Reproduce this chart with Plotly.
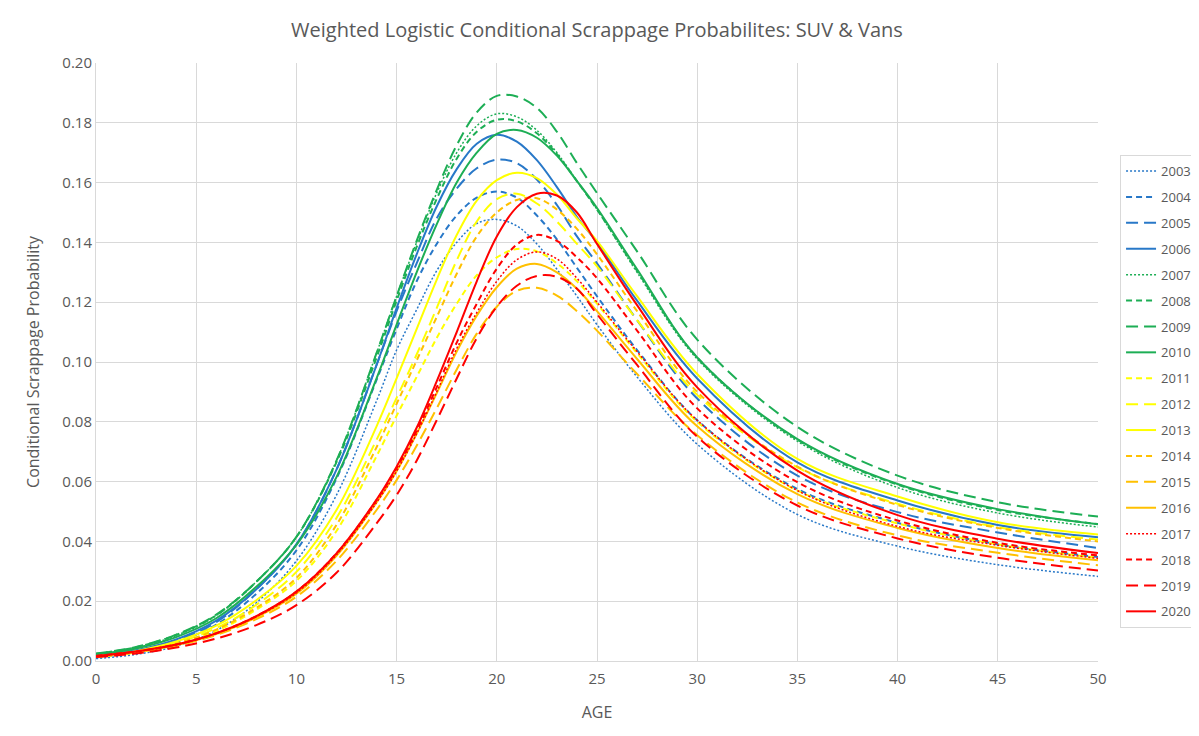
import plotly.graph_objects as go

ages = [0, 2, 4, 6, 8, 10, 12, 14, 15, 16, 17, 18, 19, 20, 21, 22, 23, 24, 25, 27, 30, 35, 40, 45, 50]

years = ["2003", "2004", "2005", "2006", "2007", "2008", "2009", "2010", "2011",
         "2012", "2013", "2014", "2015", "2016", "2017", "2018", "2019", "2020"]

p2003 = [0.0008, 0.0022, 0.0050, 0.0102, 0.0195, 0.0335, 0.0555, 0.0870, 0.1040, 0.1175, 0.1305, 0.1400, 0.1463, 0.1477, 0.1455, 0.1395, 0.1310, 0.1220, 0.1125, 0.0950, 0.0725, 0.0490, 0.0384, 0.0322, 0.0283]
p2004 = [0.0012, 0.0030, 0.0063, 0.0122, 0.0225, 0.0370, 0.0610, 0.0940, 0.1110, 0.1270, 0.1395, 0.1490, 0.1550, 0.1570, 0.1550, 0.1490, 0.1410, 0.1315, 0.1220, 0.1040, 0.0805, 0.0575, 0.0462, 0.0390, 0.0348]
p2005 = [0.0015, 0.0033, 0.0068, 0.0130, 0.0240, 0.0390, 0.0640, 0.0990, 0.1170, 0.1330, 0.1480, 0.1580, 0.1648, 0.1677, 0.1665, 0.1610, 0.1525, 0.1420, 0.1330, 0.1140, 0.0878, 0.0620, 0.0498, 0.0430, 0.0378]
p2006 = [0.0018, 0.0036, 0.0072, 0.0135, 0.0240, 0.0390, 0.0640, 0.0990, 0.1180, 0.1360, 0.1520, 0.1645, 0.1730, 0.1760, 0.1737, 0.1675, 0.1585, 0.1485, 0.1400, 0.1205, 0.0945, 0.0664, 0.0537, 0.0455, 0.0414]
p2007 = [0.0022, 0.0044, 0.0085, 0.0152, 0.0265, 0.0415, 0.0670, 0.1030, 0.1220, 0.1400, 0.1565, 0.1700, 0.1790, 0.1830, 0.1820, 0.1775, 0.1700, 0.1605, 0.1510, 0.1300, 0.1010, 0.0735, 0.0580, 0.0495, 0.0448]
p2008 = [0.0024, 0.0046, 0.0087, 0.0153, 0.0265, 0.0415, 0.0665, 0.1015, 0.1205, 0.1385, 0.1545, 0.1680, 0.1770, 0.1810, 0.1805, 0.1765, 0.1695, 0.1605, 0.1510, 0.1305, 0.1015, 0.0740, 0.0590, 0.0505, 0.0458]
p2009 = [0.0025, 0.0047, 0.0088, 0.0155, 0.0265, 0.0415, 0.0670, 0.1030, 0.1220, 0.1405, 0.1575, 0.1725, 0.1835, 0.1890, 0.1888, 0.1850, 0.1770, 0.1665, 0.1565, 0.1370, 0.1075, 0.0783, 0.0620, 0.0531, 0.0483]
p2010 = [0.0022, 0.0042, 0.0080, 0.0143, 0.0248, 0.0388, 0.0615, 0.0945, 0.1125, 0.1300, 0.1460, 0.1600, 0.1700, 0.1763, 0.1776, 0.1750, 0.1690, 0.1605, 0.1515, 0.1310, 0.1015, 0.0742, 0.0592, 0.0508, 0.0457]
p2011 = [0.0013, 0.0029, 0.0056, 0.0100, 0.0172, 0.0268, 0.0435, 0.0685, 0.0820, 0.0950, 0.1080, 0.1195, 0.1290, 0.1350, 0.1378, 0.1370, 0.1330, 0.1270, 0.1195, 0.1030, 0.0800, 0.0570, 0.0460, 0.0390, 0.0345]
p2012 = [0.0014, 0.0030, 0.0060, 0.0110, 0.0188, 0.0298, 0.0478, 0.0740, 0.0880, 0.1025, 0.1180, 0.1340, 0.1470, 0.1545, 0.1563, 0.1530, 0.1470, 0.1395, 0.1320, 0.1140, 0.0890, 0.0648, 0.0526, 0.0448, 0.0406]
p2013 = [0.0015, 0.0033, 0.0065, 0.0118, 0.0203, 0.0318, 0.0505, 0.0785, 0.0945, 0.1110, 0.1275, 0.1425, 0.1540, 0.1608, 0.1633, 0.1615, 0.1560, 0.1480, 0.1405, 0.1220, 0.0960, 0.0676, 0.0550, 0.0464, 0.0423]
p2014 = [0.0014, 0.0030, 0.0058, 0.0105, 0.0178, 0.0278, 0.0455, 0.0715, 0.0860, 0.1005, 0.1150, 0.1295, 0.1420, 0.1500, 0.1542, 0.1548, 0.1510, 0.1445, 0.1360, 0.1170, 0.0900, 0.0650, 0.0522, 0.0445, 0.0400]
p2015 = [0.0015, 0.0029, 0.0051, 0.0087, 0.0140, 0.0215, 0.0335, 0.0505, 0.0605, 0.0720, 0.0845, 0.0975, 0.1095, 0.1185, 0.1238, 0.1248, 0.1222, 0.1170, 0.1105, 0.0960, 0.0755, 0.0530, 0.0420, 0.0362, 0.0320]
p2016 = [0.0016, 0.0030, 0.0053, 0.0090, 0.0146, 0.0225, 0.0352, 0.0530, 0.0635, 0.0760, 0.0895, 0.1035, 0.1155, 0.1250, 0.1312, 0.1328, 0.1300, 0.1245, 0.1170, 0.1010, 0.0785, 0.0558, 0.0445, 0.0378, 0.0337]
p2017 = [0.0016, 0.0031, 0.0054, 0.0092, 0.0148, 0.0228, 0.0355, 0.0530, 0.0635, 0.0760, 0.0900, 0.1045, 0.1165, 0.1270, 0.1342, 0.1368, 0.1345, 0.1280, 0.1200, 0.1035, 0.0805, 0.0570, 0.0450, 0.0387, 0.0343]
p2018 = [0.0017, 0.0032, 0.0055, 0.0093, 0.0150, 0.0232, 0.0360, 0.0538, 0.0645, 0.0770, 0.0915, 0.1065, 0.1195, 0.1312, 0.1393, 0.1425, 0.1405, 0.1350, 0.1280, 0.1105, 0.0845, 0.0598, 0.0470, 0.0395, 0.0353]
p2019 = [0.0013, 0.0025, 0.0045, 0.0075, 0.0120, 0.0187, 0.0295, 0.0460, 0.0555, 0.0670, 0.0805, 0.0945, 0.1080, 0.1185, 0.1255, 0.1288, 0.1285, 0.1245, 0.1160, 0.0990, 0.0750, 0.0520, 0.0410, 0.0345, 0.0303]
p2020 = [0.0017, 0.0032, 0.0055, 0.0093, 0.0150, 0.0232, 0.0360, 0.0540, 0.0650, 0.0780, 0.0935, 0.1100, 0.1270, 0.1420, 0.1518, 0.1563, 0.1557, 0.1500, 0.1395, 0.1190, 0.0915, 0.0637, 0.0488, 0.0409, 0.0361]

values = [p2003, p2004, p2005, p2006, p2007, p2008, p2009, p2010, p2011,
          p2012, p2013, p2014, p2015, p2016, p2017, p2018, p2019, p2020]

BLUE = "#2878C8"
GREEN = "#1DAE55"
YELLOW = "#FFFF00"
ORANGE = "#FFC000"
RED = "#FF0000"
colors = [BLUE] * 4 + [GREEN] * 4 + [YELLOW] * 3 + [ORANGE] * 3 + [RED] * 4
dashes = ["2px,2px", "6px,4px", "12px,6px", "solid",
          "2px,2px", "6px,4px", "12px,6px", "solid",
          "6px,4px", "12px,6px", "solid",
          "6px,4px", "12px,6px", "solid",
          "2px,2px", "6px,4px", "12px,6px", "solid"]

fig = go.Figure()
for yr, vals, c, d in zip(years, values, colors, dashes):
    w = 1.5 if d == "2px,2px" else 2
    fig.add_trace(go.Scatter(
        x=ages, y=vals, mode="lines", name=yr, legendgroup=yr,
        line=dict(color=c, dash=d, width=w, shape="spline", smoothing=1.0),
    ))

GRID = "#D9D9D9"
TXT = "#595959"
FONT = "Open Sans"

# page body has an 8px margin: size the figure so it fills the 1199x736 window
fig.update_layout(
    width=1191, height=728,
    paper_bgcolor="white", plot_bgcolor="white",
    margin=dict(l=88, r=101, t=55, b=75, autoexpand=False),
    font=dict(family=FONT, color=TXT, size=14),
    title=dict(text="Weighted Logistic Conditional Scrappage Probabilites: SUV &amp; Vans",
               x=0.5, xref="paper", xanchor="center", y=0.97, yref="container",
               yanchor="middle",
               font=dict(size=20, color=TXT, family=FONT)),
    xaxis=dict(range=[0, 50], dtick=5, tick0=0, showgrid=True, gridcolor=GRID,
               gridwidth=1, zeroline=False, showline=True, linecolor=GRID,
               ticks="", automargin=False, ticklabelstandoff=4,
               tickfont=dict(size=15, color=TXT),
               title=dict(text="AGE", font=dict(size=16, color=TXT), standoff=19)),
    yaxis=dict(range=[0, 0.2], dtick=0.02, tick0=0, tickformat=".2f", showgrid=True,
               gridcolor=GRID, gridwidth=1, zeroline=False, showline=True,
               linecolor=GRID, ticks="", automargin=False,
               tickfont=dict(size=15, color=TXT),
               title=dict(text="Conditional Scrappage Probability",
                          font=dict(size=16, color=TXT), standoff=18)),
    legend=dict(x=1.022, y=0.846, xanchor="left", yanchor="top",
                bgcolor="white", bordercolor=GRID, borderwidth=1,
                font=dict(size=13, color=TXT), tracegroupgap=6,
                itemwidth=30),
    showlegend=True,
)

fig.write_html("out.html")
